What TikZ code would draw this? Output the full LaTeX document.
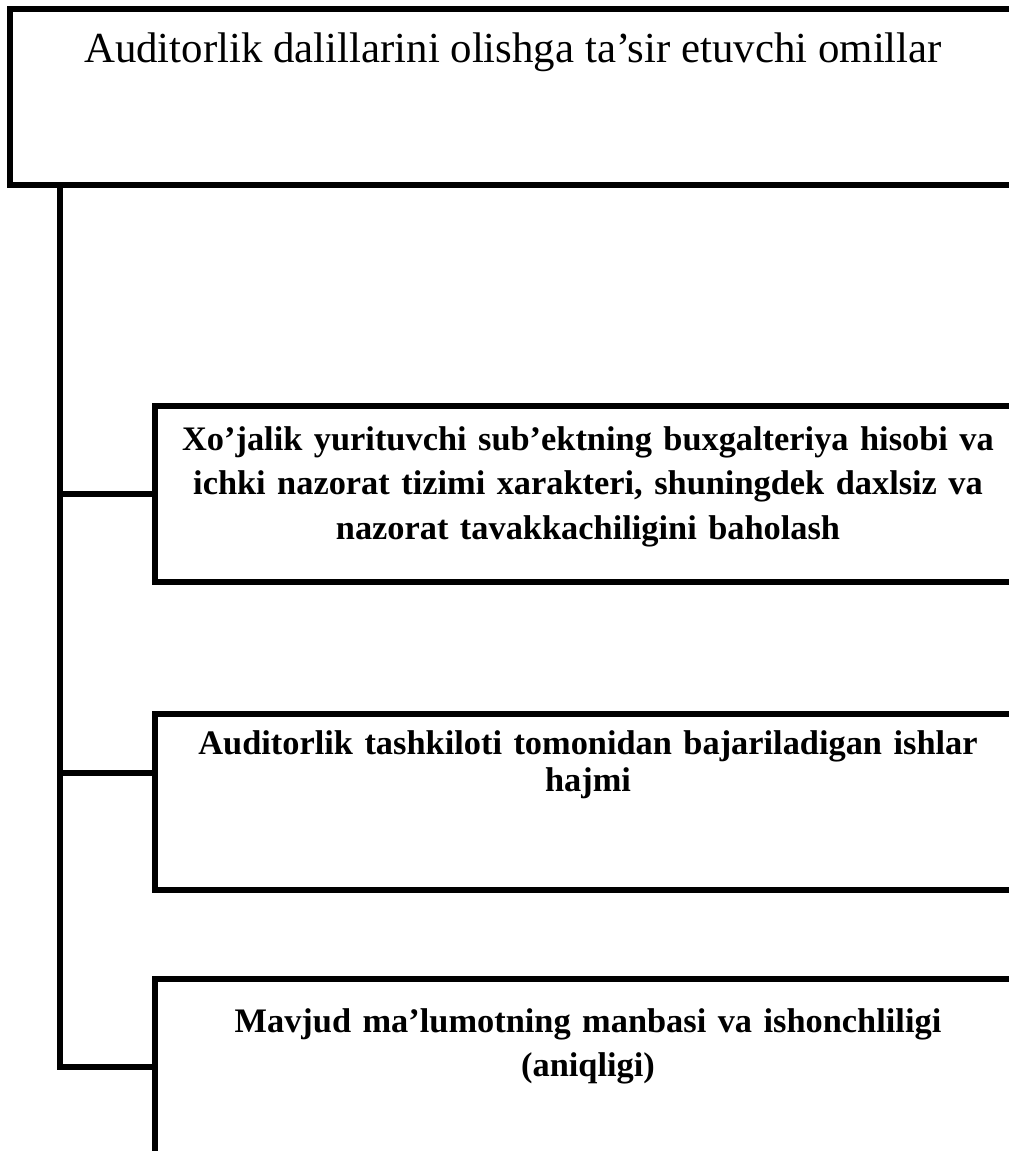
\documentclass[tikz,border=0pt]{standalone}
\usepackage{fontspec}
\setmainfont{Liberation Serif}
\usetikzlibrary{positioning}
\begin{document}
\begin{tikzpicture}[x=1bp,y=-1bp,line join=miter,
	box/.style={draw,line width=6bp,rectangle,inner sep=0pt,outer sep=0pt,
		minimum width=867bp,minimum height=176bp},
	txt/.style={font=\fontsize{34.5}{45}\selectfont\bfseries,align=center,
		text width=900bp,inner sep=0pt,anchor=base},
	link/.style={line width=6bp}]
	\useasboundingbox (0,0) rectangle (1009,1151);
	\clip (0,0) rectangle (1009,1151);
	\node[box,minimum width=1006bp,anchor=north west] (head) at (10,8.5) {};
	\node[box,anchor=north west] (b1) at (154.5,405.5) {};
	\node[box,anchor=north west] (b2) at (154.5,714) {};
	\node[box,anchor=north west] (b3) at (154.5,979) {};
	\node[anchor=base,inner sep=0pt,font=\fontsize{43}{52}\selectfont] (title)
		at ([yshift=-53.5bp]head.north) {Auditorlik dalillarini olishga ta’sir etuvchi omillar};
	\node[txt] (t1) at ([yshift=-44.5bp]b1.north)
		{Xo’jalik yurituvchi sub’ektning buxgalteriya hisobi va\\
		ichki nazorat tizimi xarakteri, shuningdek daxlsiz va\\
		nazorat tavakkachiligini baholash};
	\node[txt,font=\fontsize{34.5}{38}\selectfont\bfseries] (t2) at ([yshift=-40bp]b2.north)
		{Auditorlik tashkiloti tomonidan bajariladigan ishlar\\ hajmi};
	\node[txt] (t3) at ([yshift=-53bp]b3.north)
		{Mavjud ma’lumotning manbasi va ishonchliligi\\ (aniqligi)};
	\path (head.south west) ++(50,0) coordinate (T)
		([yshift=-59bp]b2.north west) coordinate (s2);
	\draw[link] (T) -- (T |- b3.west) -- (b3.west);
	\draw[link] (T |- b1.west) -- (b1.west);
	\draw[link] (T |- s2) -- (s2);
\end{tikzpicture}
\end{document}
